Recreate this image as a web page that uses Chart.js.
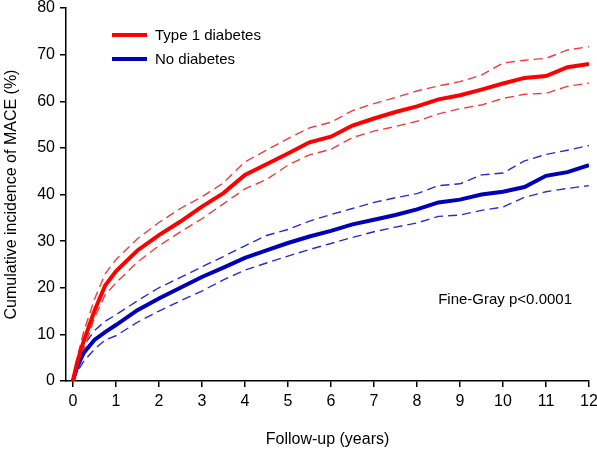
<!DOCTYPE html>
<html>
<head>
<meta charset="utf-8">
<script src="https://cdn.jsdelivr.net/npm/chart.js@4.4.1/dist/chart.umd.min.js"></script>
<style>
  html, body { margin: 0; padding: 0; background: #fff; }
  #wrap { width: 597px; height: 449px; }
</style>
</head>
<body>
<div id="wrap"><canvas id="cifChart" width="597" height="449"></canvas></div>
<script>
// follow-up time (years)
const years = [0, 0.1, 0.25, 0.5, 0.75, 1, 1.5, 2, 2.5, 3, 3.5, 4, 4.5, 5, 5.5, 6,
    6.5, 7, 7.5, 8, 8.5, 9, 9.5, 10, 10.5, 11, 11.5, 12];

// Type 1 diabetes: estimate and 95% CI
const t1d = [0, 4, 8.5, 15, 20.5, 23.5, 28, 31.3, 34.2, 37.4, 40.3, 44.2, 46.5, 48.8,
    51.2, 52.4, 54.8, 56.3, 57.7, 58.9, 60.4, 61.3, 62.5, 63.8, 65.0, 65.4, 67.3, 68.0];
const t1dUpper = [0, 5, 10.5, 17.5, 23, 26, 30.5, 34, 37, 39.5, 42.5, 47.0, 49.5, 52,
    54.3, 55.5, 58.0, 59.5, 60.8, 62.2, 63.3, 64.2, 65.6, 68.2, 68.8, 69.2, 71, 71.7];
const t1dLower = [0, 3, 6.5, 13.5, 18.5, 21, 25.5, 29, 32, 34.8, 38, 41.2, 43.2, 46.3,
    48.5, 49.7, 52.2, 53.6, 54.6, 55.7, 57.3, 58.4, 59.2, 60.6, 61.5, 61.7, 63.2, 63.9];

// No diabetes: estimate and 95% CI
const noDm = [0, 3, 6, 8.8, 10.5, 12, 15.2, 17.7, 20, 22.3, 24.3, 26.4, 28.0, 29.6,
    31, 32.2, 33.6, 34.6, 35.6, 36.8, 38.3, 38.9, 40.0, 40.6, 41.6, 44.0, 44.8, 46.3];
const noDmUpper = [0, 4, 7.5, 10.8, 12.8, 14.2, 17.2, 20, 22.2, 24.5, 26.7, 29.0, 31.2,
    32.5, 34.3, 35.7, 37.0, 38.3, 39.3, 40.2, 41.9, 42.3, 44.2, 44.6, 47.2, 48.6, 49.5, 50.5];
const noDmLower = [0, 2, 4.2, 6.8, 8.8, 9.7, 12.6, 15.0, 17.2, 19.3, 21.7, 23.8, 25.3,
    26.8, 28.2, 29.5, 30.8, 32.0, 33.0, 33.9, 35.3, 35.6, 36.6, 37.3, 39.4, 40.6, 41.3, 41.9];

const xTicks = [0, 1, 2, 3, 4, 5, 6, 7, 8, 9, 10, 11, 12];
const yTicks = [0, 10, 20, 30, 40, 50, 60, 70, 80];

const seriesNames = ['Type 1 diabetes', 'No diabetes'];
const annotationText = 'Fine-Gray p<0.0001';

const RED = '#ff0000';
const RED_CI = '#f03c3c';
const BLUE = '#0000bb';
const BLUE_CI = '#2a2ad0';
const FONT = 'Arial, "Liberation Sans", sans-serif';

function pts(vals) {
    return years.map((x, i) => ({ x: x, y: vals[i] }));
}

function mainLine(label, vals, color) {
    return {
        label: label,
        data: pts(vals),
        borderColor: color,
        borderWidth: 4,
        pointRadius: 0,
        tension: 0,
        order: 0
    };
}

function ciLine(vals, color) {
    return {
        label: '',
        data: pts(vals),
        borderColor: color,
        borderWidth: 1.4,
        borderDash: [9, 5],
        pointRadius: 0,
        tension: 0,
        order: 1
    };
}

// legend and annotation drawn inside the plot
const overlay = {
    id: 'overlay',
    afterDatasetsDraw(chart) {
        const c = chart.ctx;
        c.save();
        c.font = '15px ' + FONT;
        c.fillStyle = '#000';
        c.textBaseline = 'middle';
        const rows = [[RED, 35], [BLUE, 59]];
        rows.forEach((r, i) => {
            c.strokeStyle = r[0];
            c.lineWidth = 4;
            c.beginPath();
            c.moveTo(112, r[1]);
            c.lineTo(147, r[1]);
            c.stroke();
            c.textAlign = 'left';
            c.fillText(seriesNames[i], 155, r[1] + 1);
        });
        c.textAlign = 'right';
        c.fillText(annotationText, 572, 300);
        c.restore();
    }
};

const ctx = document.getElementById('cifChart');

new Chart(ctx, {
    type: 'line',
    data: {
        datasets: [
            mainLine(seriesNames[0], t1d, RED),
            ciLine(t1dUpper, RED_CI),
            ciLine(t1dLower, RED_CI),
            mainLine(seriesNames[1], noDm, BLUE),
            ciLine(noDmUpper, BLUE_CI),
            ciLine(noDmLower, BLUE_CI)
        ]
    },
    options: {
        responsive: false,
        animation: false,
        devicePixelRatio: 1,
        layout: { padding: { top: 8, right: 8, left: 0, bottom: 0 } },
        plugins: {
            legend: { display: false },
            tooltip: { enabled: false }
        },
        scales: {
            x: {
                type: 'linear',
                min: -0.16,
                max: 12,
                afterBuildTicks(scale) {
                    scale.ticks = xTicks.map(v => ({ value: v }));
                },
                afterFit(scale) {
                    scale.height = 68;
                    scale.paddingLeft = 0;
                    scale.paddingRight = 0;
                },
                border: { display: true, color: '#000', width: 1.5 },
                grid: {
                    drawOnChartArea: false,
                    drawTicks: true,
                    tickLength: 6,
                    color: '#000',
                    lineWidth: 1.5
                },
                ticks: {
                    color: '#000',
                    padding: 5,
                    maxRotation: 0,
                    font: { size: 16, family: FONT }
                },
                title: {
                    display: true,
                    text: 'Follow-up (years)',
                    color: '#000',
                    padding: { top: 0, bottom: 0 },
                    font: { size: 16, family: FONT }
                }
            },
            y: {
                min: 0,
                max: 80,
                afterBuildTicks(scale) {
                    scale.ticks = yTicks.map(v => ({ value: v }));
                },
                afterFit(scale) {
                    scale.width = 66;
                    scale.paddingTop = 0;
                    scale.paddingBottom = 0;
                },
                border: { display: true, color: '#000', width: 1.5 },
                grid: {
                    drawOnChartArea: false,
                    drawTicks: true,
                    tickLength: 6,
                    color: '#000',
                    lineWidth: 1.5
                },
                ticks: {
                    color: '#000',
                    padding: 5,
                    font: { size: 16, family: FONT }
                },
                title: {
                    display: true,
                    text: 'Cumulative incidence of MACE (%)',
                    color: '#000',
                    padding: { top: 2, bottom: 0 },
                    font: { size: 16, family: FONT }
                }
            }
        }
    },
    plugins: [overlay]
});
</script>
</body>
</html>
